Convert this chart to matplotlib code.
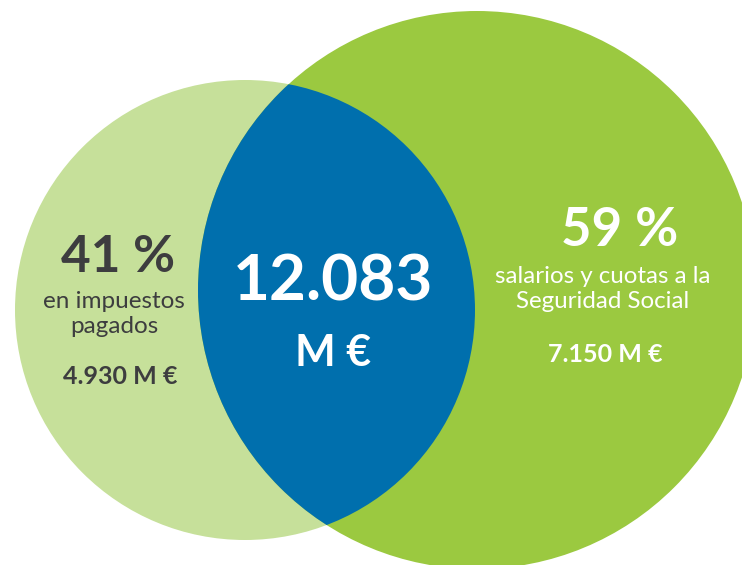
import matplotlib
matplotlib.use("Agg")
from matplotlib import pyplot as plt
from matplotlib.patches import Circle

# data
total_label = "12.083"
total_unit = "M €"
share_labels = ["41 %", "59 %"]
share_texts = ["en impuestos\npagados", "salarios y cuotas a la\nSeguridad Social"]
share_amounts = ["4.930 M €", "7.150 M €"]

LIGHT = "#c6e09a"
GREEN = "#9bc940"
BLUE = "#006fad"
DARK = "#3d3d3f"

plt.rcParams["font.family"] = ["Lato", "DejaVu Sans"]

fig = plt.figure(figsize=(7.42, 5.65), dpi=100)
ax = fig.add_axes([0, 0, 1, 1])
ax.set_xlim(0, 742)
ax.set_ylim(565, 0)
ax.set_aspect("equal")
ax.axis("off")

left = Circle((245, 310), 230, color=LIGHT, lw=0)
right = Circle((477, 290), 279, color=GREEN, lw=0)
ax.add_patch(left)
ax.add_patch(right)

# intersection: right circle clipped by the left one
inter = Circle((477, 290), 279, color=BLUE, lw=0)
ax.add_patch(inter)
inter.set_clip_path(left)

# left set
ax.text(118, 258, share_labels[0], ha="center", va="center",
        fontsize=37, fontweight="bold", color=DARK)
ax.text(114, 314, share_texts[0], ha="center", va="center",
        fontsize=17.5, fontweight="normal", color=DARK, linespacing=1.2)
ax.text(120, 377, share_amounts[0], ha="center", va="center",
        fontsize=18, fontweight="bold", color=DARK)

# intersection
ax.text(333, 282, total_label, ha="center", va="center",
        fontsize=46, fontweight="bold", color="white")
ax.text(333, 353, total_unit, ha="center", va="center",
        fontsize=31, fontweight="bold", color="white")

# right set
ax.text(620, 231, share_labels[1], ha="center", va="center",
        fontsize=38, fontweight="bold", color="white")
ax.text(603, 289, share_texts[1], ha="center", va="center",
        fontsize=17.4, fontweight="normal", color="white", linespacing=1.2)
ax.text(605, 354, share_amounts[1], ha="center", va="center",
        fontsize=18, fontweight="bold", color="white")

fig.savefig("out.png", dpi=100)
